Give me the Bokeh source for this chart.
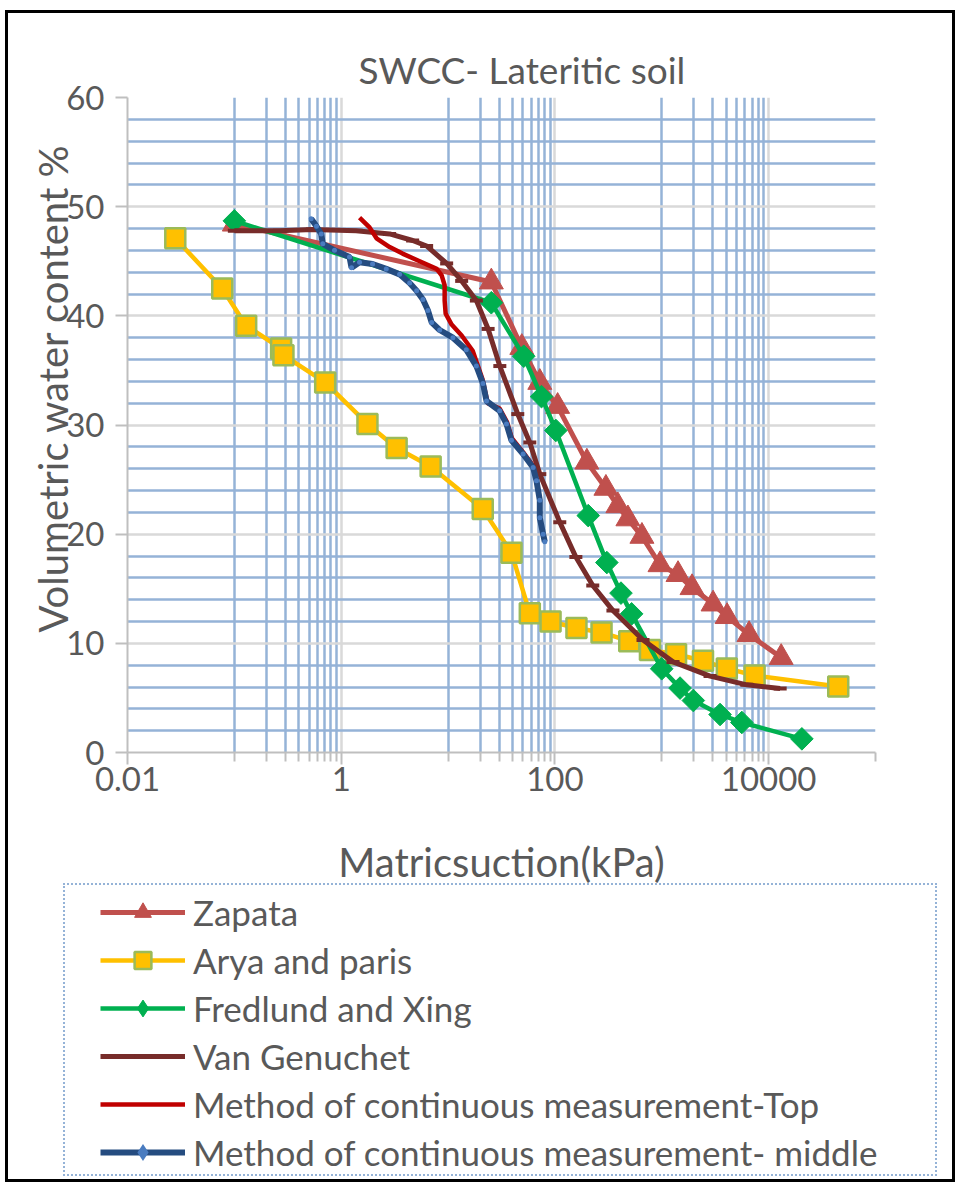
from math import pi
from bokeh.plotting import figure
from bokeh.layouts import column
from bokeh.models import Range1d, FixedTicker, Legend, LegendItem, Title, InlineStyleSheet
from bokeh.embed import file_html
from bokeh.resources import INLINE

# ---------------- data ----------------
zap_x = [0.1, 25.4, 49.0, 72.2, 106, 199, 300, 388, 482, 652, 962, 1419, 1919, 3020, 4083, 6561, 13100]
zap_y = [48.4, 43.1, 37.1, 33.9, 31.7, 26.6, 24.2, 22.6, 21.4, 19.8, 17.2, 16.3, 15.1, 13.6, 12.45, 10.8, 8.7]

ary_x = [0.028, 0.077, 0.129, 0.274, 0.288, 0.708, 1.76, 3.30, 6.87, 21.1, 39.2, 58.2, 91, 159, 273, 496,
         775, 1360, 2430, 4060, 7390, 44800]
ary_y = [47.1, 42.5, 39.1, 37.0, 36.4, 33.9, 30.1, 27.9, 26.2, 22.3, 18.3, 12.75, 12.0, 11.4, 11.0, 10.2,
         9.4, 9.0, 8.4, 7.7, 7.05, 6.04]

fx_x = [0.1, 25.4, 51.1, 74.9, 102, 205, 306, 415, 522, 998, 1482, 1974, 3510, 5610, 20470]
fx_y = [48.7, 41.2, 36.3, 32.6, 29.5, 21.7, 17.4, 14.6, 12.7, 7.67, 5.9, 4.76, 3.48, 2.75, 1.25]

vg_x = [0.1, 0.264, 0.538, 1.38, 2.84, 4.66, 6.30, 9.70, 13.4, 18.4, 23.7, 30.5, 44.9, 58.2, 72.2, 111,
        157, 226, 349, 667, 1274, 2830, 6250, 12820]
vg_y = [47.8, 47.8, 47.9, 47.8, 47.5, 46.9, 46.4, 44.8, 43.2, 41.4, 38.8, 35.4, 31.0, 28.4, 25.5, 21.1,
        17.9, 15.3, 13.0, 10.3, 8.3, 7.0, 6.2, 5.86]

top_x = [1.484, 1.841, 2.14, 2.84, 3.75, 5.42, 7.82, 8.71, 9.29, 9.29, 9.49, 10.8, 13.4, 17.0, 21.0, 23.5,
         30.4, 35.5, 39.5, 50.5, 62, 67, 71]
top_y = [49.0, 48.1, 47.1, 46.3, 45.7, 45.0, 44.3, 43.7, 42.8, 41.4, 40.2, 39.2, 38.2, 36.8, 34.2, 32.0,
         31.5, 30.3, 28.8, 27.5, 26.3, 25.0, 23.5]

mid_x = [0.523, 0.587, 0.650, 0.672, 0.865, 1.196, 1.249, 1.484, 1.965, 2.64, 3.52, 4.37, 5.08, 5.82, 6.48,
         7.02, 8.34, 11.1, 14.8, 18.4, 21.2, 22.9, 30.4, 35.2, 39.2, 50.4, 62.5, 67.2, 72.2, 72.2, 77.5, 80.4]
mid_y = [48.9, 48.2, 47.5, 46.6, 46.0, 45.4, 44.4, 44.9, 44.75, 44.3, 43.8, 43.0, 42.3, 41.5, 40.5,
         39.4, 38.7, 38.0, 36.9, 35.4, 33.8, 32.2, 31.3, 30.1, 28.6, 27.35, 26.1, 24.9, 23.1, 21.5, 20.0, 19.3]

series_names = ["Zapata", "Arya and paris", "Fredlund and Xing", "Van Genuchet",
                "Method of continuous measurement-Top", "Method of continuous measurement- middle"]

x_tick_values = [0.01, 1, 100, 10000]
x_tick_labels = ["0.01", "1", "100", "10000"]
x_minor_values = [0.1, 0.2, 0.3, 0.4, 0.5, 0.6, 0.7, 0.8, 0.9,
                  10, 20, 30, 40, 50, 60, 70, 80, 90,
                  1000, 2000, 3000, 4000, 5000, 6000, 7000, 8000, 9000, 100000]
y_tick_values = [0, 10, 20, 30, 40, 50, 60]
y_minor_values = [v for v in range(2, 60, 2) if v % 10 != 0]

# ---------------- styles ----------------
FONT = "Lato"
TXT = "#595959"
MINOR = "#95B3D7"
MAJOR = "#D9D9D9"
c_zap, c_ary, c_ary_edge, c_fx, c_vg, c_top, c_mid, c_mid_pt = (
    "#C0504D", "#FFC000", "#9BBB59", "#00B050", "#772C2A", "#C00000", "#254C80", "#4A7CC0")


def add_series(fig, in_legend=False):
    """Draw the six series on a figure; returns the renderers for each legend entry."""
    if in_legend:
        fx_marker = dict(marker="diamond", size=30)
        mid_marker = dict(marker="diamond", size=9)
    else:
        fx_marker = dict(marker="square", angle=pi / 4, size=16)
        mid_marker = dict(marker="circle", size=5)
    r1 = [fig.line(zap_x, zap_y, line_color=c_zap, line_width=5),
          fig.scatter(zap_x, zap_y, marker="triangle", size=24, fill_color=c_zap, line_color=c_zap)]
    r2 = [fig.line(ary_x, ary_y, line_color=c_ary, line_width=4.5),
          fig.scatter(ary_x, ary_y, marker="square", size=20, fill_color=c_ary, line_color=c_ary_edge,
                      line_width=2.5)]
    r3 = [fig.line(fx_x, fx_y, line_color=c_fx, line_width=4.5),
          fig.scatter(fx_x, fx_y, fill_color=c_fx, line_color=c_fx, **fx_marker)]
    r4 = [fig.line(vg_x, vg_y, line_color=c_vg, line_width=5),
          fig.scatter(vg_x, vg_y, marker="dash", size=13, line_color=c_vg, line_width=4)]
    r5 = [fig.line(top_x, top_y, line_color=c_top, line_width=4.5)]
    r6 = [fig.line(mid_x, mid_y, line_color=c_mid, line_width=6),
          fig.scatter(mid_x, mid_y, fill_color=c_mid_pt, line_color=None, **mid_marker)]
    return [r1, r2, r3, r4, r5, r6]


# ---------------- main chart ----------------
p = figure(width=961, height=891, x_axis_type="log",
           x_range=Range1d(0.01, 100000), y_range=Range1d(0, 60),
           output_backend="svg", toolbar_location=None,
           min_border_left=127, min_border_right=86, min_border_top=97, min_border_bottom=139)
p.frame_align = False
p.outline_line_color = None
p.background_fill_color = "white"
p.border_fill_color = "white"

p.title.text = "SWCC- Lateritic soil"
p.title.align = "left"
p.title.offset = 231
p.title.text_font = FONT
p.title.text_font_size = "37px"
p.title.text_font_style = "normal"
p.title.text_color = TXT
p.title.standoff = 12

xt = FixedTicker(ticks=x_tick_values, minor_ticks=x_minor_values)
yt = FixedTicker(ticks=y_tick_values, minor_ticks=y_minor_values)
p.xaxis.ticker = xt
p.yaxis.ticker = yt
p.xgrid.ticker = xt
p.ygrid.ticker = yt
p.xaxis.major_label_overrides = {v: s for v, s in zip(x_tick_values, x_tick_labels)}

for ax in (p.xaxis[0], p.yaxis[0]):
    ax.axis_line_color = "#BFBFBF"
    ax.axis_line_width = 2
    ax.major_tick_line_color = "#BFBFBF"
    ax.major_tick_line_width = 2
    ax.minor_tick_line_color = "#BFBFBF"
    ax.minor_tick_line_width = 2
    ax.major_label_text_font = FONT
    ax.major_label_text_font_size = "33px"
    ax.major_label_text_color = TXT
    ax.axis_label_text_font = FONT
    ax.axis_label_text_font_style = "normal"
    ax.axis_label_text_color = TXT

p.xaxis.major_tick_out = 12
p.xaxis.major_tick_in = 0
p.xaxis.minor_tick_out = 9
p.xaxis.minor_tick_in = 0
p.xaxis.major_label_standoff = 2
p.xaxis.axis_label = "Matricsuction(kPa)"
p.xaxis.axis_label_text_font_size = "40px"
p.xaxis.axis_label_standoff = 44

p.yaxis.major_tick_out = 12
p.yaxis.major_tick_in = 0
p.yaxis.minor_tick_out = 0
p.yaxis.minor_tick_in = 0
p.yaxis.major_label_standoff = 11

ytitle = Title(text="Volumetric water content %", align="left", offset=120,
               text_font=FONT, text_font_size="40px", text_font_style="normal",
               text_color=TXT, standoff=-26, vertical_align="bottom")
p.add_layout(ytitle, "left")

p.xgrid.grid_line_color = MAJOR
p.xgrid.grid_line_width = 2.5
p.xgrid.minor_grid_line_color = MINOR
p.xgrid.minor_grid_line_width = 2.5
p.ygrid.grid_line_color = MAJOR
p.ygrid.grid_line_width = 2.5
p.ygrid.minor_grid_line_color = MINOR
p.ygrid.minor_grid_line_width = 2.5

add_series(p)

# ---------------- legend panel (same series, ranges chosen so only the legend shows) ----------------
q = figure(width=961, height=298, x_range=Range1d(0, 1), y_range=Range1d(1000, 1001),
           x_axis_location=None, y_axis_location=None, output_backend="svg", toolbar_location=None,
           min_border=0, min_border_left=0, min_border_right=0, min_border_top=0, min_border_bottom=0)
q.frame_align = False
q.outline_line_color = None
q.xgrid.visible = False
q.ygrid.visible = False
q.background_fill_color = "white"
q.border_fill_color = "white"

legend_renderers = add_series(q, in_legend=True)

legend = Legend(items=[LegendItem(label=n, renderers=r) for n, r in zip(series_names, legend_renderers)],
                location=(100, 16), orientation="vertical",
                glyph_width=85, glyph_height=42, label_height=42, label_standoff=8, spacing=6,
                padding=0, margin=0, border_line_alpha=0, background_fill_alpha=0,
                label_text_font=FONT, label_text_font_size="35px", label_text_color=TXT,
                label_text_baseline="middle")
q.add_layout(legend, "center")

layout = column(p, q, spacing=0)
layout.stylesheets = [InlineStyleSheet(css="""
:host::before { content: ""; position: absolute; left: 63px; top: 883px; width: 874px; height: 293px;
  border: 2px dotted #95B3D7; box-sizing: border-box; pointer-events: none; z-index: 10; }
:host::after { content: ""; position: absolute; left: 5px; top: 10px; width: 950px; height: 1172px;
  border: 3px solid #000000; box-sizing: border-box; pointer-events: none; z-index: 10; }
""")]

open("out.html", "w").write(file_html(layout, INLINE))
